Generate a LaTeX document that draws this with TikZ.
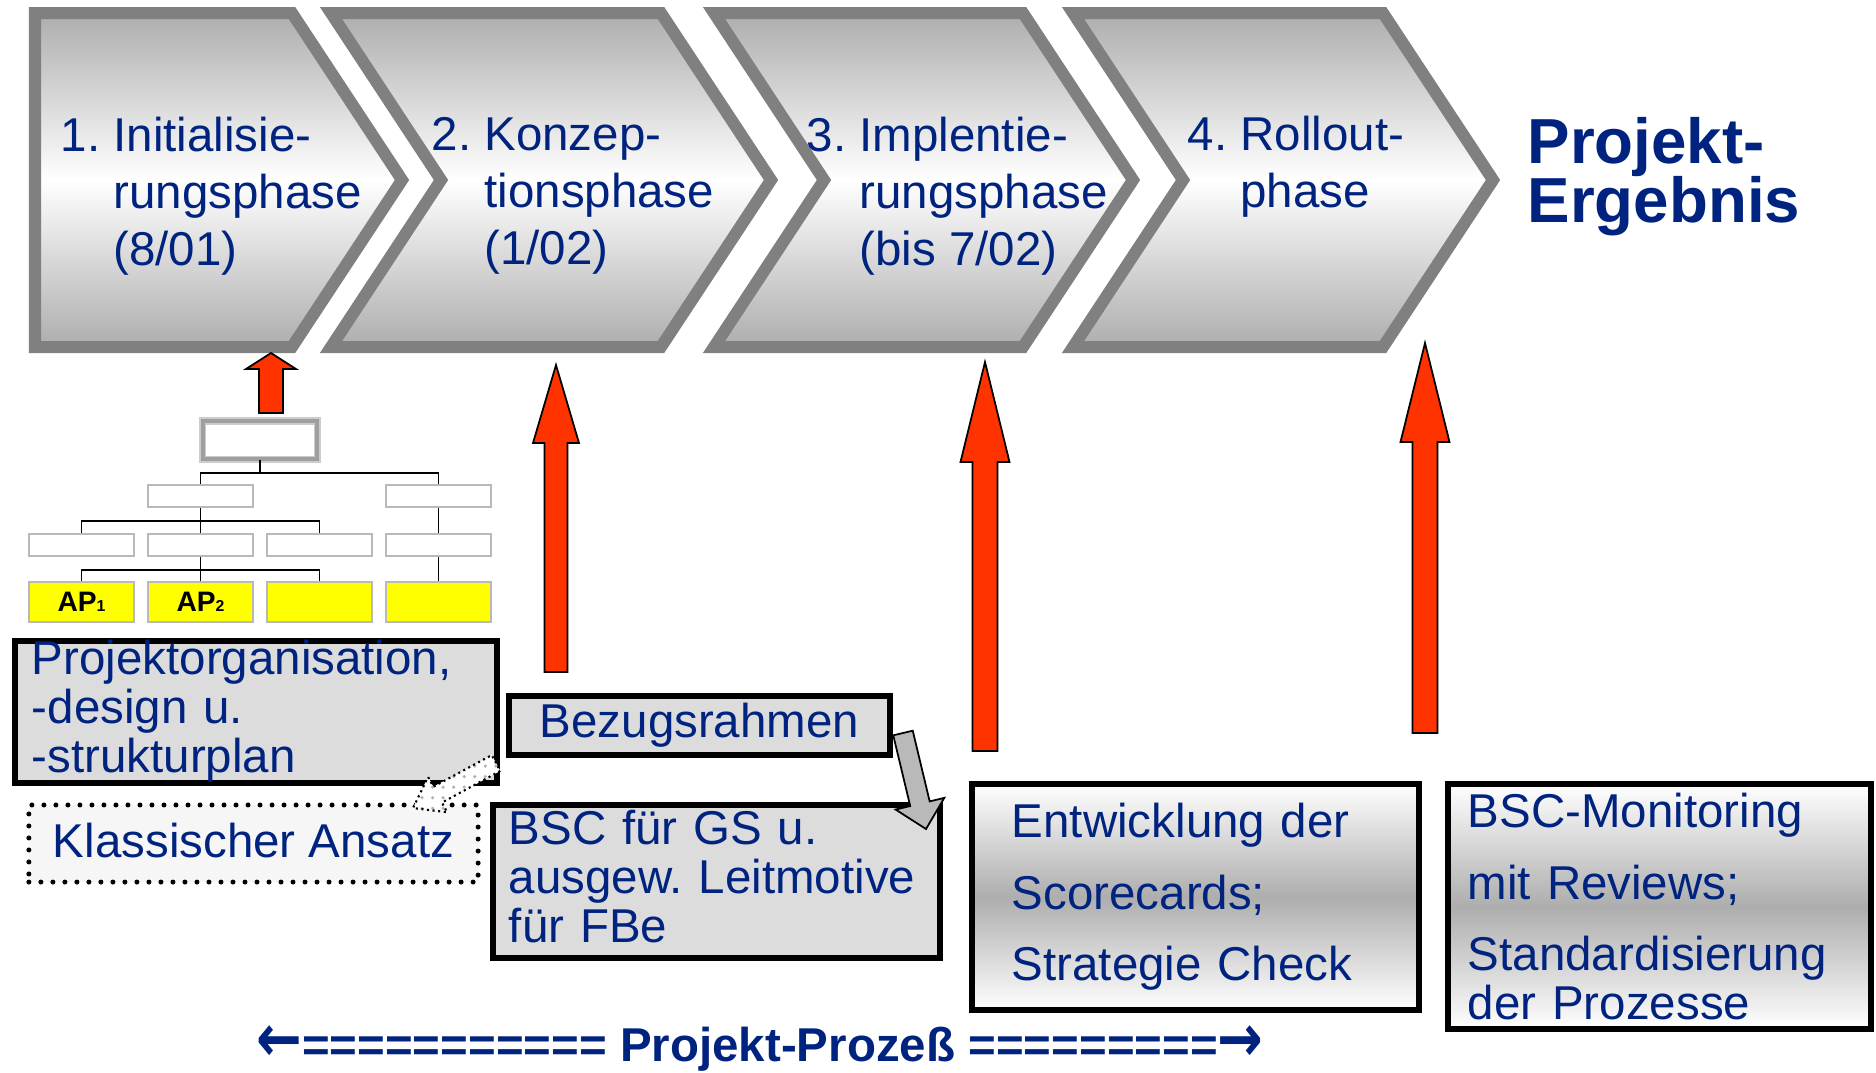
\documentclass[tikz,border=0pt]{standalone}
\usepackage{fontspec}
\setmainfont{Liberation Sans}
\newfontfamily\arrowfont{DejaVu Sans}
\usepackage{tikz}
\usetikzlibrary{calc}
\usetikzlibrary{patterns}
\usetikzlibrary{arrows.meta, positioning}
\frenchspacing

\definecolor{txtblue}{RGB}{0,35,128}
\definecolor{phasegray}{RGB}{128,128,128}
\definecolor{boxgray}{RGB}{220,220,220}
\definecolor{arrowred}{RGB}{255,51,0}
\definecolor{klassfill}{RGB}{246,246,246}
\definecolor{apyellow}{RGB}{255,255,0}

\newcommand{\phasefont}{\fontsize{13.5}{16.2}\selectfont}
\newcommand{\boxfont}{\fontsize{13.5}{13.9}\selectfont}
\newcommand{\resultfont}{\fontsize{18.1}{16.8}\selectfont\bfseries\lineskiplimit=-8pt}
\newcommand{\apfont}{\fontsize{8}{9}\selectfont\bfseries}
\newcommand{\bigarrow}[1]{\scalebox{1.15}[1.4]{\arrowfont\bfseries #1}}

\newcommand{\chevron}[3]{%
  \draw[phase] (#1,13) -- (#2,13) -- ++(110,167) -- ++(-110,167) -- (#1,347) -- ++(#3,-167) -- cycle;}

\newcommand{\blockarrow}[6]{%
  \coordinate (ba) at ($(#2)!#5!(#1)$);
  \draw[#6] ($(#1)!#3!90:(#2)$) -- ($(ba)!#3!90:(#2)$) -- ($(ba)!#4!90:(#2)$) -- (#2)
    -- ($(ba)!#4!-90:(#2)$) -- ($(ba)!#3!-90:(#2)$) -- ($(#1)!#3!-90:(#2)$) -- cycle;}

\begin{document}
\begin{tikzpicture}[x=0.01cm, y=-0.01cm,
    phase/.style={draw=phasegray, line width=0.12cm, top color=black!32, bottom color=black!32, middle color=white},
    phasetext/.style={text=txtblue, font=\phasefont, align=left, anchor=west, inner sep=0pt},
    txtbox/.style={draw=black, line width=0.06cm, fill=boxgray, text=txtblue, font=\boxfont, align=left, inner ysep=0pt},
    shadebox/.style={txtbox, top color=white, bottom color=white, middle color=black!32},
    dotbox/.style={draw=black, line width=0.05cm, dash pattern=on 0pt off 0.12cm, line cap=round, fill=klassfill, text=txtblue, font=\boxfont, inner sep=0pt},
    topbox/.style={draw=gray!40, line width=0.5pt, double=gray!75, double distance=1pt, fill=white, minimum width=1.14cm, minimum height=0.38cm, inner sep=0pt},
    orgbox/.style={draw=gray!55, line width=0.5pt, fill=white, minimum width=1.05cm, minimum height=0.22cm, inner sep=0pt},
    apbox/.style={orgbox, fill=apyellow, minimum height=0.40cm, font=\apfont},
    redarrow/.style={draw=black, line width=0.5pt, fill=arrowred},
    grayarrow/.style={draw=black, line width=0.5pt, fill=gray!55},
    dotarrow/.style={draw=black, line width=0.6pt, densely dotted, preaction={fill=white}, pattern=dots, pattern color=gray!60}]

  \useasboundingbox (0,0) rectangle (1876,1072);

  \chevron{35}{292}{0}
  \chevron{331}{661}{110}
  \chevron{714}{1023}{110}
  \chevron{1073}{1383}{110}

  \node[phasetext] (ph1) at (60,196) {1.~Initialisie-\\\hphantom{1.~}rungsphase\\\hphantom{1.~}(8/01)};
  \node[phasetext] (ph2) at (431,196) {2.~Konzep-\\\hphantom{2.~}tionsphase\\\hphantom{2.~}(1/02)};
  \node[phasetext] (ph3) at (806,196) {3.~Implentie-\\\hphantom{3.~}rungsphase\\\hphantom{3.~}(bis 7/02)};
  \node[phasetext] (ph4) at (1187,167) {4.~Rollout-\\\hphantom{4.~}phase};
  \node[phasetext, font=\resultfont] (result) at (1527,177) {Projekt-\\Ergebnis};

  \node[topbox] (top) at (260,440) {};
  \node[orgbox] (l2a) at (200.5,496) {};
  \node[orgbox] (l2b) at (438.5,496) {};
  \node[orgbox] (l3a) at (81.5,545) {};
  \node[orgbox] (l3b) at (200.5,545) {};
  \node[orgbox] (l3c) at (319.5,545) {};
  \node[orgbox] (l3d) at (438.5,545) {};
  \node[apbox] (l4a) at (81.5,602) {AP{\fontsize{4.5}{5}\selectfont 1}};
  \node[apbox] (l4b) at (200.5,602) {AP{\fontsize{4.5}{5}\selectfont 2}};
  \node[apbox] (l4c) at (319.5,602) {};
  \node[apbox] (l4d) at (438.5,602) {};
  \draw (top.south) -- ++(0,13) -| (l2a.north);
  \draw (top.south) -- ++(0,13) -| (l2b.north);
  \draw (l2a.south) -- ++(0,13) -| (l3a.north);
  \draw (l2a.south) -- (l3b.north);
  \draw (l2a.south) -- ++(0,13) -| (l3c.north);
  \draw (l2b.south) -- (l3d.north);
  \draw (l3b.south) -- ++(0,13) -| (l4a.north);
  \draw (l3b.south) -- (l4b.north);
  \draw (l3b.south) -- ++(0,13) -| (l4c.north);
  \draw (l3d.south) -- (l4d.north);

  \coordinate (r1a) at (271,413);
  \coordinate (r1b) at (271,353);
  \coordinate (r2a) at (556,672);
  \coordinate (r2b) at (556,365);
  \coordinate (r3a) at (985,751);
  \coordinate (r3b) at (985,362);
  \coordinate (r4a) at (1425,733);
  \coordinate (r4b) at (1425,343);
  \blockarrow{r1a}{r1b}{0.12cm}{0.25cm}{0.16cm}{redarrow}
  \blockarrow{r2a}{r2b}{0.115cm}{0.23cm}{0.78cm}{redarrow}
  \blockarrow{r3a}{r3b}{0.125cm}{0.245cm}{1cm}{redarrow}
  \blockarrow{r4a}{r4b}{0.125cm}{0.245cm}{0.99cm}{redarrow}

  \node[txtbox, minimum width=4.82cm, minimum height=1.41cm, text width=4.48cm, inner xsep=0.17cm] (orga) at (256,711.5) {Projektorganisation,\\-design u.\\-strukturplan};
  \node[txtbox, minimum width=3.81cm, minimum height=0.59cm] (bezug) at (699.5,725.5) {Bezugsrahmen\rule[-0.06cm]{0pt}{0.06cm}};
  \node[dotbox, minimum width=4.49cm, minimum height=0.77cm] (klass) at (253.5,843.5) {Klassischer Ansatz\rule[-0.06cm]{0pt}{0.06cm}};
  \node[txtbox, minimum width=4.47cm, minimum height=1.53cm, text width=4.15cm, inner xsep=0.16cm] (bsc) at (716.5,881.5) {BSC für GS u.\\ausgew. Leitmotive\\für FBe\rule[-0.1cm]{0pt}{0.1cm}};
  \node[shadebox, minimum width=4.47cm, minimum height=2.26cm, text width=3.67cm, inner xsep=0.40cm] (entw) at (1195.5,897) {Entwicklung der\\[0.225cm]Scorecards;\\[0.225cm]Strategie Check};
  \node[shadebox, minimum width=4.23cm, minimum height=2.45cm, text width=3.83cm, inner xsep=0.20cm] (monit) at (1659.5,906.5) {BSC-Monitoring\\[0.23cm]mit Reviews;\\[0.23cm]Standardisierung\\der Prozesse};

  \coordinate (g1) at (903,733);
  \coordinate (g2) at (926,829);
  \blockarrow{g1}{g2}{0.10cm}{0.25cm}{0.26cm}{grayarrow}
  \coordinate (d1) at (496,763);
  \coordinate (d2) at (413,808);
  \blockarrow{d1}{d2}{0.09cm}{0.20cm}{0.28cm}{dotarrow}

  \node[font=\boxfont\bfseries, text=txtblue, anchor=base, inner sep=0pt] (prozess) at (760,1061) {\bigarrow{←}=========== Projekt-Prozeß =========\bigarrow{→}};
\end{tikzpicture}
\end{document}
